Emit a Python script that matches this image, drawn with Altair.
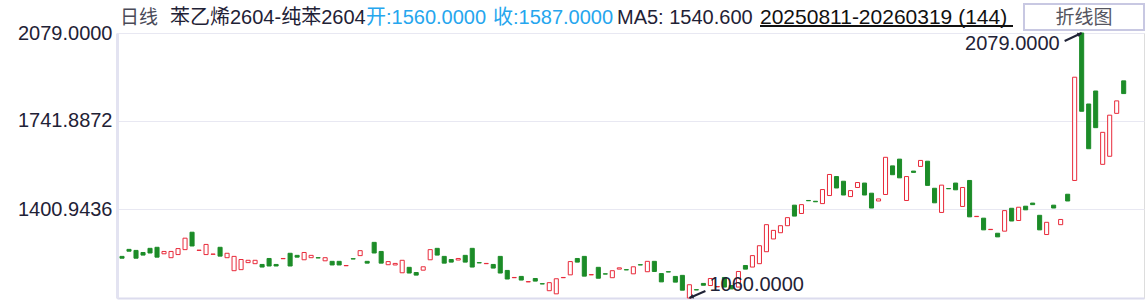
import altair as alt
import pandas as pd

# ---- data ----
opens = [
    1220, 1247, 1243, 1235, 1251, 1255, 1230, 1215, 1227, 1246,
    1313, 1243, 1227, 1228, 1255, 1215, 1165, 1169, 1196, 1192,
    1189, 1212, 1189, 1211, 1232, 1224, 1207, 1215, 1215, 1203,
    1201, 1201, 1184, 1211, 1223, 1201, 1274, 1239, 1188, 1187,
    1157, 1178, 1158, 1167, 1207, 1251, 1220, 1208, 1206, 1224,
    1251, 1196, 1192, 1189, 1220, 1166, 1138, 1143, 1122, 1135,
    1115, 1088, 1076, 1138, 1149, 1212, 1220, 1149, 1178, 1153,
    1138, 1171, 1169, 1153, 1188, 1161, 1201, 1154, 1161, 1143,
    1147, 1060, 1092, 1116, 1108, 1103, 1139, 1108, 1102, 1185,
    1179, 1192, 1238, 1287, 1311, 1338, 1417, 1385, 1435, 1432,
    1423, 1454, 1527, 1509, 1450, 1485, 1502, 1463, 1433, 1458,
    1568, 1594, 1435, 1548, 1566, 1586, 1482, 1389, 1481, 1502,
    1412, 1512, 1373, 1367, 1323, 1309, 1317, 1405, 1358, 1413,
    1425, 1378, 1304, 1417, 1342, 1459, 1512, 2079, 1806, 1856,
    1574, 1605, 1770, 1895,
]
closes = [
    1213, 1240, 1213, 1225, 1233, 1217, 1239, 1239, 1250, 1290,
    1260, 1244, 1266, 1229, 1221, 1232, 1220, 1208, 1205, 1205,
    1179, 1183, 1183, 1212, 1183, 1217, 1235, 1224, 1214, 1215,
    1187, 1187, 1185, 1210, 1242, 1194, 1233, 1194, 1200, 1193,
    1205, 1156, 1148, 1180, 1246, 1225, 1194, 1198, 1212, 1198,
    1179, 1195, 1193, 1175, 1156, 1133, 1139, 1129, 1123, 1125,
    1114, 1119, 1134, 1139, 1200, 1198, 1144, 1150, 1136, 1152,
    1165, 1176, 1168, 1180, 1187, 1201, 1162, 1122, 1160, 1121,
    1090, 1111, 1091, 1109, 1135, 1104, 1102, 1095, 1162, 1171,
    1223, 1261, 1342, 1320, 1338, 1369, 1375, 1419, 1434, 1430,
    1477, 1535, 1483, 1456, 1473, 1504, 1456, 1406, 1441, 1601,
    1534, 1522, 1527, 1543, 1589, 1493, 1426, 1494, 1480, 1476,
    1485, 1372, 1374, 1322, 1324, 1295, 1396, 1356, 1409, 1399,
    1419, 1322, 1351, 1406, 1362, 1433, 1909, 1778, 1634, 1715,
    1697, 1763, 1818, 1846,
]
y_ticks = [1400.9436, 1741.8872, 2079.0]
max_idx, max_val = 137, 2079
min_idx, min_val = 81, 1060

df = pd.DataFrame({"i": list(range(len(opens))), "open": opens, "close": closes})

W, H = 1027, 265
GREEN = "#1c8c28"
RED = "#e82a3a"
TXT = "#1f2236"
LAV = "#e3e3f1"

xs = alt.Scale(domain=[-0.714, 145.9], nice=False, zero=False)
ys = alt.Scale(domain=[1060, 2079], nice=False, zero=False)

base = alt.Chart(df).transform_calculate(
    x0="datum.i - 0.29", x1="datum.i + 0.29"
)

xenc = alt.X("x0:Q", scale=xs, axis=alt.Axis(labels=False, ticks=False, grid=False, title=None,
                                               domainColor="#dcdcee", domainWidth=2))
yenc = alt.Y("open:Q", scale=ys, axis=alt.Axis(values=y_ticks, title=None, ticks=False,
                                                labelExpr="format(datum.value, '.4f')",
                                                labelFontSize=20, labelFont="Liberation Sans",
                                                labelColor=TXT, labelPadding=5,
                                                gridColor="#e8e8f2", gridWidth=1,
                                                domainColor=LAV, domainWidth=3))

up = base.transform_filter("datum.close >= datum.open").mark_rect(
    fill="white", stroke=RED, strokeWidth=1
).encode(x=xenc, x2="x1:Q", y=yenc, y2="close:Q")

down = base.transform_filter("datum.close < datum.open").mark_rect(
    fill=GREEN, stroke=GREEN, strokeWidth=1
).encode(x=xenc, x2="x1:Q", y=yenc, y2="close:Q")

# annotations for extremes
ext = pd.DataFrame({"i": [max_idx, min_idx], "v": [max_val, min_val],
                    "label": [f"{max_val:.4f}", f"{min_val:.4f}"]})
ax = alt.X("i:Q", scale=xs)
ay = alt.Y("v:Q", scale=ys)
max_df = alt.Chart(ext).transform_filter(f"datum.i == {max_idx}")
min_df = alt.Chart(ext).transform_filter(f"datum.i == {min_idx}")

max_text = max_df.mark_text(align="right", baseline="middle", dx=-22, dy=11, fontSize=20,
                            font="Liberation Sans", color=TXT).encode(x=ax, y=ay, text="label:N")
max_arrow = max_df.mark_rule(color=TXT, strokeWidth=2, x2Offset=-17, y2Offset=8).encode(
    x=ax, y=ay, x2="i:Q", y2="v:Q")
max_head = max_df.mark_point(shape="triangle-up", filled=True, size=22, angle=65, color=TXT,
                             opacity=1, xOffset=-2, yOffset=1).encode(x=ax, y=ay)

min_text = min_df.mark_text(align="left", baseline="middle", dx=20, dy=-13, fontSize=20,
                            font="Liberation Sans", color=TXT).encode(x=ax, y=ay, text="label:N")
min_arrow = min_df.mark_rule(color=TXT, strokeWidth=2, x2Offset=16, y2Offset=-7).encode(
    x=ax, y=ay, x2="i:Q", y2="v:Q")
min_head = min_df.mark_point(shape="triangle-up", filled=True, size=22, angle=248, color=TXT,
                             opacity=1, xOffset=2, yOffset=-1).encode(x=ax, y=ay)

# header texts
FONT = "Liberation Sans, Noto Sans CJK SC"
def head(txt, x, color, size=20, align="left"):
    return alt.Chart(pd.DataFrame({"t": [txt]})).mark_text(
        align=align, baseline="middle", fontSize=size, font=FONT, color=color
    ).encode(x=alt.value(x), y=alt.value(-15), text="t:N")

h1 = head("日线", 3, "#4a4a58", 19)
h2 = head("苯乙烯2604-纯苯2604", 53, TXT)
h3 = head("开:1560.0000", 249, "#26a6ee")
h4 = head("收:1587.0000", 376, "#26a6ee")
h5 = head("MA5: 1540.600", 500, TXT)
h6 = head("20250811-20260319 (144)", 643, "#111111", 21)
underline = alt.Chart(pd.DataFrame({"a": [0]})).mark_rule(color="#111111", strokeWidth=2).encode(
    x=alt.value(643), x2=alt.value(896), y=alt.value(-7))
btn = alt.Chart(pd.DataFrame({"a": [0]})).mark_rect(fill="white", stroke="#c8c8e2", strokeWidth=2).encode(
    x=alt.value(907), x2=alt.value(1027), y=alt.value(-29), y2=alt.value(-3))
btn_text = head("折线图", 967, "#555560", 19, "center")

chart = alt.layer(
    up, down, max_arrow, max_head, max_text, min_arrow, min_head, min_text,
    h1, h2, h3, h4, h5, h6, underline, btn, btn_text
).properties(
    width=W, height=H,
    padding={"left": 117, "top": 33, "right": 2, "bottom": 4},
    autosize=alt.AutoSizeParams(type="none"),
).configure_view(stroke=LAV, strokeWidth=1).configure(background="white")

chart.save("out.html", embed_options={"renderer": "svg", "actions": False})
